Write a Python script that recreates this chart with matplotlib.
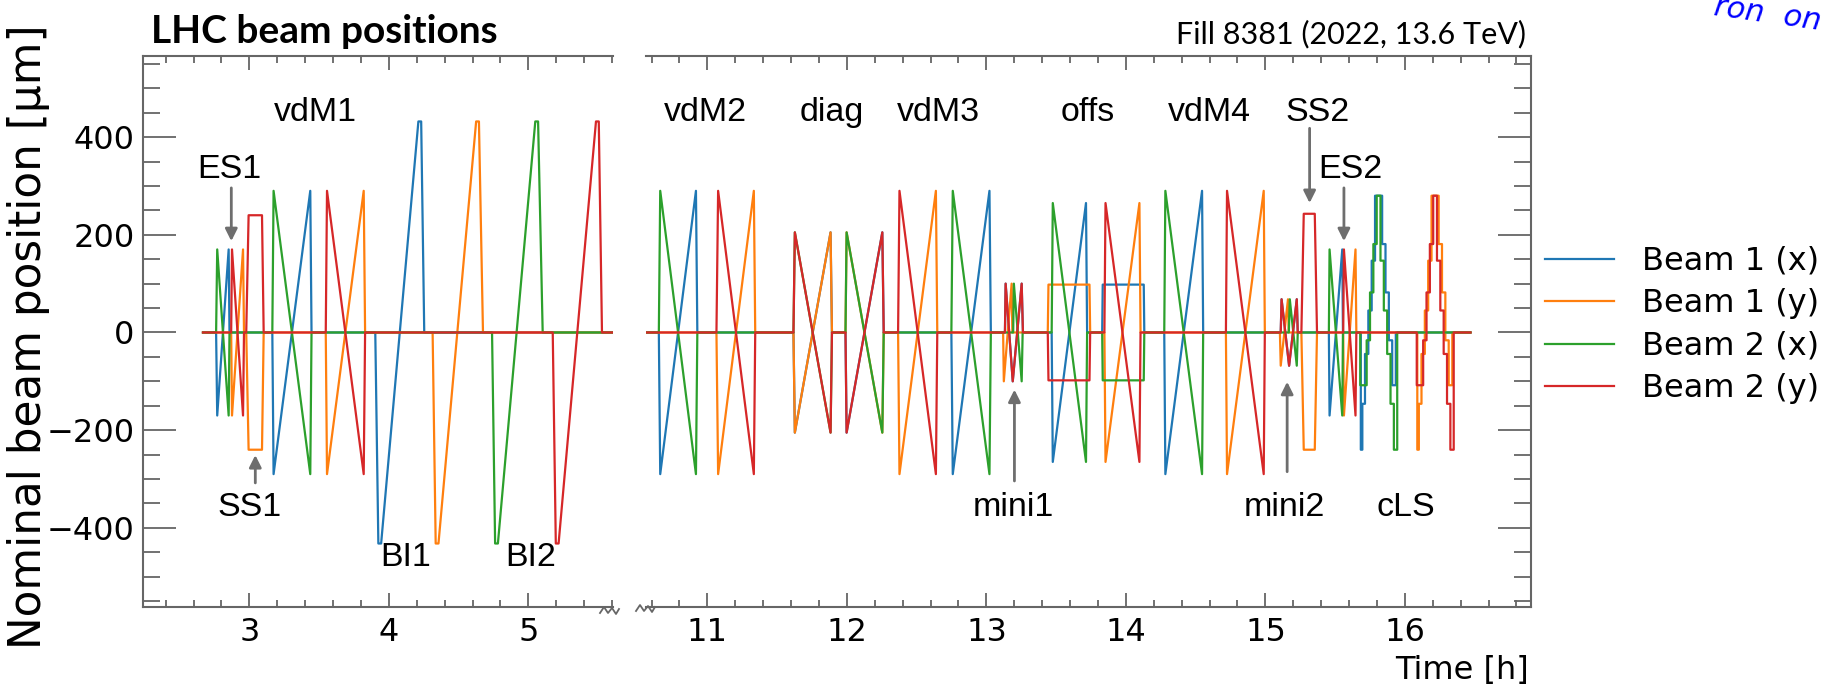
import matplotlib.pyplot as plt
from matplotlib.lines import Line2D
from matplotlib.ticker import MultipleLocator

W, H = 1827, 687

beam_labels = ["Beam 1 (x)", "Beam 1 (y)", "Beam 2 (x)", "Beam 2 (y)"]
beam_colors = ["#1f77b4", "#ff7f0e", "#2ca02c", "#d62728"]

# nominal beam positions as (time [h], position [um]) corners
# first part of the fill (ES1, SS1, vdM1, BI1, BI2)
b1x_early = [(2.668, 0), (2.762, 0), (2.770, -170), (2.852, 170), (2.858, 0),
             (3.165, 0), (3.174, -290), (3.437, 290), (3.446, 0),
             (3.903, 0), (3.925, -432), (3.945, -432), (4.212, 432), (4.232, 432), (4.254, 0),
             (5.605, 0)]
b1y_early = [(2.668, 0), (2.870, 0), (2.876, -170), (2.955, 170), (2.962, 0),
             (2.978, 0), (2.995, -240), (3.091, -240), (3.103, 0),
             (3.548, 0), (3.557, -290), (3.820, 290), (3.830, 0),
             (4.314, 0), (4.336, -432), (4.356, -432), (4.626, 432), (4.646, 432), (4.675, 0),
             (5.605, 0)]
b2x_early = [(2.668, 0), (2.762, 0), (2.770, 170), (2.852, -170), (2.858, 0),
             (3.165, 0), (3.174, 290), (3.437, -290), (3.446, 0),
             (4.740, 0), (4.762, -432), (4.782, -432), (5.050, 432), (5.070, 432), (5.103, 0),
             (5.605, 0)]
b2y_early = [(2.668, 0), (2.870, 0), (2.876, 170), (2.955, -170), (2.962, 0),
             (2.978, 0), (2.995, 240), (3.091, 240), (3.103, 0),
             (3.548, 0), (3.557, 290), (3.820, -290), (3.830, 0),
             (5.175, 0), (5.197, -432), (5.217, -432), (5.485, 432), (5.505, 432), (5.528, 0),
             (5.605, 0)]

# second part (vdM2, diag, vdM3, mini1, offs, vdM4, mini2, SS2, ES2)
b1x_late = [(10.56, 0),
            (10.652, 0), (10.662, -290), (10.918, 290), (10.928, 0),
            (11.617, 0), (11.627, -205), (11.883, 205), (11.893, 0),
            (11.990, 0), (11.998, -205), (12.254, 205), (12.264, 0),
            (12.749, 0), (12.759, -290), (13.022, 290), (13.032, 0),
            (13.133, 0), (13.138, 100), (13.189, -100), (13.253, 100), (13.262, 0),
            (13.468, 0), (13.476, -265), (13.714, 265), (13.722, 0),
            (13.830, 0), (13.834, 98), (14.128, 98), (14.132, 0),
            (14.275, 0), (14.283, -290), (14.546, 290), (14.554, 0),
            (15.110, 0), (15.116, 68), (15.170, -68), (15.225, 68), (15.232, 0),
            (15.455, 0), (15.460, -170), (15.551, 170), (15.556, 0)]
b1y_late = [(10.56, 0),
            (11.065, 0), (11.077, -290), (11.333, 290), (11.343, 0),
            (11.617, 0), (11.627, -205), (11.883, 205), (11.893, 0),
            (11.990, 0), (11.998, 205), (12.254, -205), (12.264, 0),
            (12.367, 0), (12.377, -290), (12.638, 290), (12.648, 0),
            (13.120, 0), (13.125, -100), (13.181, 100), (13.186, 0),
            (13.440, 0), (13.445, 98), (13.739, 98), (13.744, 0),
            (13.846, 0), (13.854, -265), (14.097, 265), (14.105, 0),
            (14.717, 0), (14.725, -290), (14.988, 290), (14.996, 0),
            (15.104, 0), (15.110, -68), (15.162, 68), (15.167, 0),
            (15.258, 0), (15.275, -240), (15.354, -240), (15.370, 0),
            (15.558, 0), (15.563, -170), (15.646, 170), (15.652, 0)]
b2x_late = [(10.56, 0),
            (10.652, 0), (10.662, 290), (10.918, -290), (10.928, 0),
            (11.617, 0), (11.627, 205), (11.883, -205), (11.893, 0),
            (11.990, 0), (11.998, 205), (12.254, -205), (12.264, 0),
            (12.749, 0), (12.759, 290), (13.022, -290), (13.032, 0),
            (13.192, 0), (13.197, 100), (13.253, -100), (13.260, 0),
            (13.468, 0), (13.476, 265), (13.714, -265), (13.722, 0),
            (13.830, 0), (13.834, -98), (14.128, -98), (14.132, 0),
            (14.275, 0), (14.283, 290), (14.546, -290), (14.554, 0),
            (15.168, 0), (15.175, 68), (15.225, -68), (15.232, 0),
            (15.455, 0), (15.460, 170), (15.551, -170), (15.556, 0)]
b2y_late = [(10.56, 0),
            (11.065, 0), (11.077, 290), (11.333, -290), (11.343, 0),
            (11.617, 0), (11.627, 205), (11.883, -205), (11.893, 0),
            (11.990, 0), (11.998, -205), (12.254, 205), (12.264, 0),
            (12.367, 0), (12.377, 290), (12.638, -290), (12.648, 0),
            (13.133, 0), (13.138, 100), (13.189, -100), (13.253, 100), (13.262, 0),
            (13.440, 0), (13.445, -98), (13.739, -98), (13.744, 0),
            (13.846, 0), (13.854, 265), (14.097, -265), (14.105, 0),
            (14.717, 0), (14.725, 290), (14.988, -290), (14.996, 0),
            (15.110, 0), (15.116, 68), (15.170, -68), (15.225, 68), (15.232, 0),
            (15.258, 0), (15.275, 243), (15.354, 243), (15.370, 0),
            (15.558, 0), (15.563, 170), (15.646, -170), (15.652, 0)]

# constant length scale: time of each move [h] and the new position [um]
cls_b1x_t = [15.684, 15.695, 15.714, 15.738, 15.762, 15.786, 15.837, 15.861, 15.885, 15.909, 15.935]
cls_b1x_v = [-240, -146, -44, 45, 147, 280, 181, 82, -16, -108, 0]
cls_b2x_t = [15.680, 15.726, 15.750, 15.774, 15.798, 15.825, 15.849, 15.873, 15.897, 15.921, 15.945]
cls_b2x_v = [-108, -16, 82, 181, 280, 147, 45, -44, -146, -240, 0]
cls_b1y_t = [16.089, 16.100, 16.119, 16.143, 16.167, 16.191, 16.242, 16.266, 16.290, 16.314, 16.340]
cls_b1y_v = [-240, -146, -44, 45, 147, 280, 181, 82, -16, -108, 0]
cls_b2y_t = [16.085, 16.131, 16.155, 16.179, 16.203, 16.230, 16.254, 16.278, 16.302, 16.326, 16.350]
cls_b2y_v = [-108, -16, 82, 181, 280, 147, 45, -44, -146, -240, 0]
fill_end = 16.47


def stairs(ts, vs):
    pts, prev = [], 0
    for t, v in zip(ts, vs):
        pts += [(t, prev), (t, v)]
        prev = v
    return pts


early = [b1x_early, b1y_early, b2x_early, b2y_early]
late = [b1x_late + stairs(cls_b1x_t, cls_b1x_v) + [(fill_end, 0)],
        b1y_late + stairs(cls_b1y_t, cls_b1y_v) + [(fill_end, 0)],
        b2x_late + stairs(cls_b2x_t, cls_b2x_v) + [(fill_end, 0)],
        b2y_late + stairs(cls_b2y_t, cls_b2y_v) + [(fill_end, 0)]]

fig = plt.figure(figsize=(W / 100, H / 100), dpi=100)
ax1 = fig.add_axes([143 / W, 80 / H, 470 / W, 551 / H])
ax2 = fig.add_axes([646 / W, 80 / H, 885 / W, 551 / H])

for ax, paths in ((ax1, early), (ax2, late)):
    for pts, col, lab in zip(paths, beam_colors, beam_labels):
        t, v = zip(*pts)
        ax.plot(t, v, color=col, lw=1.6, label=lab)

ax1.set_xlim(2.238, 5.607)
ax2.set_xlim(10.56, 16.904)
spine_col = "#666666"
for ax in (ax1, ax2):
    ax.set_ylim(-562, 566)
    ax.xaxis.set_major_locator(MultipleLocator(1))
    ax.xaxis.set_minor_locator(MultipleLocator(0.2))
    ax.yaxis.set_major_locator(MultipleLocator(200))
    ax.yaxis.set_minor_locator(MultipleLocator(50))
    ax.tick_params(which="both", direction="in", top=True, color=spine_col,
                   labelsize=23, width=1.3)
    ax.tick_params(axis="x", which="major", length=10, pad=7)
    ax.tick_params(axis="x", which="minor", length=5)
    ax.tick_params(axis="y", which="major", length=24, pad=6)
    ax.tick_params(axis="y", which="minor", length=12)
    for s in ax.spines.values():
        s.set_color(spine_col)
        s.set_linewidth(1.5)

ax1.spines["right"].set_visible(False)
ax2.spines["left"].set_visible(False)
ax1.tick_params(axis="y", which="both", left=True, right=False)
ax2.tick_params(axis="y", which="both", left=False, right=True, labelleft=False)

# scan labels
ann = dict(fontsize=24.5, family="Liberation Sans", ha="center", va="baseline")
ax1.text(3.473, 433, "vdM1", **ann)
ax1.text(2.857, 316, "ES1", **ann)
ax1.text(3.0, -376, "SS1", **ann)
ax1.text(4.123, -478, "BI1", **ann)
ax1.text(5.014, -478, "BI2", **ann)
for x, s in [(10.987, "vdM2"), (11.888, "diag"), (12.657, "vdM3"), (13.727, "offs"),
             (14.599, "vdM4"), (15.371, "SS2")]:
    ax2.text(x, 433, s, **ann)
ax2.text(15.611, 316, "ES2", **ann)
ax2.text(13.194, -376, "mini1", **ann)
ax2.text(15.136, -376, "mini2", **ann)
ax2.text(16.004, -376, "cLS", **ann)

arr = dict(arrowstyle="-|>", color="#6e6e6e", lw=2, mutation_scale=18, shrinkA=0, shrinkB=0)
ax1.annotate("", xy=(2.871, 187), xytext=(2.871, 296), arrowprops=arr)
ax1.annotate("", xy=(3.043, -251), xytext=(3.043, -308), arrowprops=arr)
ax2.annotate("", xy=(13.201, -117), xytext=(13.201, -304), arrowprops=arr)
ax2.annotate("", xy=(15.156, -101), xytext=(15.156, -285), arrowprops=arr)
ax2.annotate("", xy=(15.317, 265), xytext=(15.317, 418), arrowprops=arr)
ax2.annotate("", xy=(15.563, 187), xytext=(15.563, 296), arrowprops=arr)

# axis break marks
for cx, cy in [(609, 611), (645, 609)]:
    xs = [cx - 9, cx - 5, cx - 1, cx + 3, cx + 7, cx + 10]
    ys = [cy + 2, cy - 4, cy + 2, cy - 3, cy + 3, cy - 2]
    fig.add_artist(Line2D([x / W for x in xs], [1 - y / H for y in ys],
                          transform=fig.transFigure, color=spine_col, lw=1.3))

fig.text(29 / W, 1 - 337 / H, "Nominal beam position [µm]", rotation=90,
         fontsize=31.5, ha="center", va="center")
fig.text(1529 / W, 1 - 670 / H, "Time [h]", fontsize=23, ha="right", va="center")
fig.text(151 / W, 1 - 43 / H, "LHC beam positions", fontsize=28, family="Lato",
         fontweight="bold", ha="left", va="baseline")
fig.text(1526 / W, 1 - 43 / H, "Fill 8381 (2022, 13.6 TeV)", fontsize=22, family="Lato",
         ha="right", va="baseline")
fig.text(1712 / W, 1 - 14 / H, "ron  on", fontsize=22, color="blue", style="italic",
         rotation=-8, ha="left", va="center")

handles, labels = ax1.get_legend_handles_labels()
fig.legend(handles, labels, loc="center left", bbox_to_anchor=(1545 / W, 1 - 325 / H),
           frameon=False, fontsize=23, handlelength=2.15, handletextpad=0.9,
           labelspacing=0.36, borderpad=0, borderaxespad=0)

fig.savefig("out.png", dpi=100)
